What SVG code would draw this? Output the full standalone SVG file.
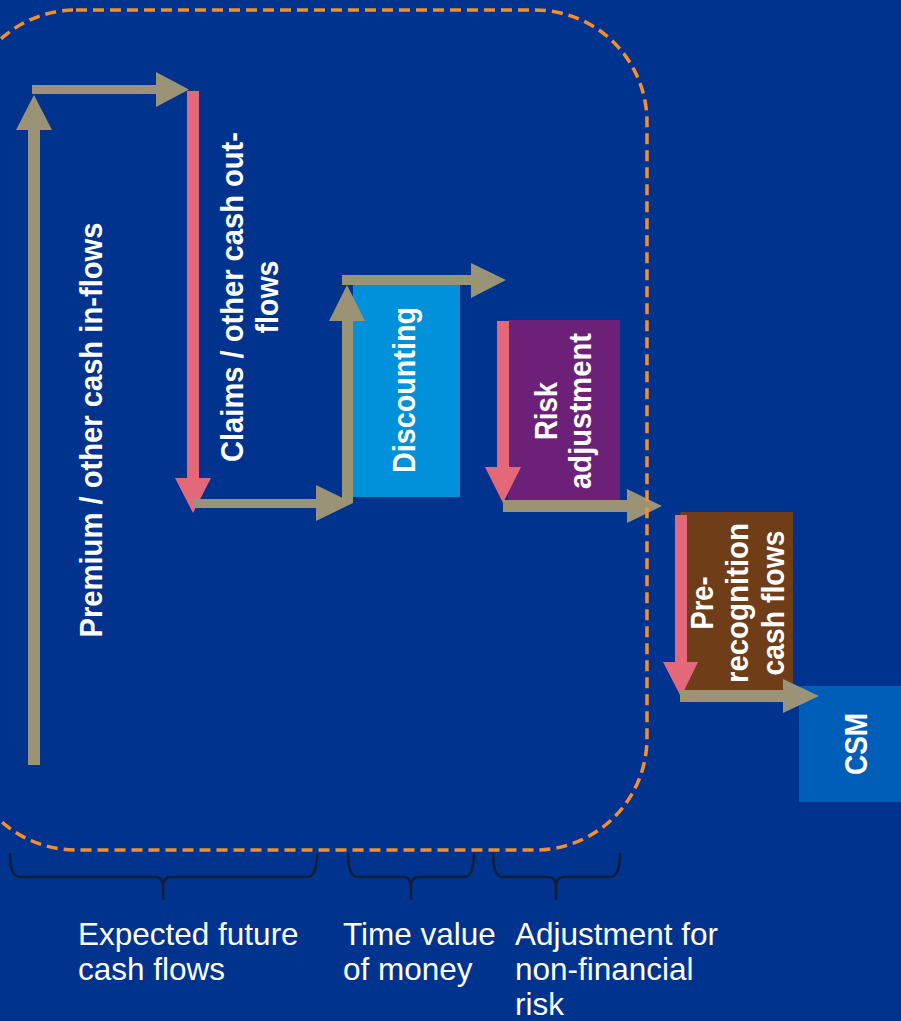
<svg xmlns="http://www.w3.org/2000/svg" width="901" height="1021" viewBox="0 0 901 1021">
  <style>
    .bg { fill: #00338D; }
    .flow { fill: #9A9375; }
    .out { fill: #E2687A; }
    .lbl { font-family: "Liberation Sans", Arial, sans-serif; font-weight: bold; font-size: 31px; fill: #FFFFFF; text-anchor: middle; }
    .cap { font-family: "Liberation Sans", Arial, sans-serif; font-size: 31.5px; fill: #FFFFFF; }
    .brace { fill: none; stroke: #121F3A; stroke-width: 2.5; }
    .scope { fill: none; stroke: #F68D2E; stroke-width: 3.5; stroke-dasharray: 11 6; }
  </style>
  <rect class="bg" x="0" y="0" width="901" height="1021"/>

  <g id="premium">
    <text class="lbl" transform="translate(102,430) rotate(-90)" textLength="415" lengthAdjust="spacingAndGlyphs">Premium / other cash in-flows</text>
  </g>
  <g id="claims">
    <text class="lbl" transform="translate(243,297) rotate(-90)" textLength="330" lengthAdjust="spacingAndGlyphs">Claims / other cash out-</text>
    <text class="lbl" transform="translate(278,297) rotate(-90)" textLength="73" lengthAdjust="spacingAndGlyphs">flows</text>
  </g>
  <g id="discounting">
    <rect x="353" y="285" width="107" height="212" fill="#0091DA"/>
    <text class="lbl" transform="translate(415,390) rotate(-90)" textLength="166" lengthAdjust="spacingAndGlyphs">Discounting</text>
  </g>
  <g id="risk-adjustment">
    <rect x="508" y="320" width="112" height="183" fill="#6D2077"/>
    <text class="lbl" transform="translate(557,411) rotate(-90)" textLength="58" lengthAdjust="spacingAndGlyphs">Risk</text>
    <text class="lbl" transform="translate(591,411) rotate(-90)" textLength="156" lengthAdjust="spacingAndGlyphs">adjustment</text>
  </g>
  <g id="pre-recognition">
    <rect x="680" y="512" width="113" height="178" fill="#703D19"/>
    <text class="lbl" transform="translate(713,603) rotate(-90)" textLength="53" lengthAdjust="spacingAndGlyphs">Pre-</text>
    <text class="lbl" transform="translate(748,603) rotate(-90)" textLength="160" lengthAdjust="spacingAndGlyphs">recognition</text>
    <text class="lbl" transform="translate(784,603) rotate(-90)" textLength="145" lengthAdjust="spacingAndGlyphs">cash flows</text>
  </g>
  <g id="csm">
    <rect x="799" y="686" width="102" height="116" fill="#005EB8"/>
    <text class="lbl" transform="translate(867,744) rotate(-90)" textLength="62" lengthAdjust="spacingAndGlyphs">CSM</text>
  </g>

  <g id="connectors">
    <polygon class="flow" points="28,765 40,765 40,130 52,130 34,95 16,130 28,130"/>
    <polygon class="flow" points="32,85 156,85 156,72 189,89.5 156,107 156,94 32,94"/>
    <polygon class="out" points="187,91 199,91 199,478 211,478 193,513 175,478 187,478"/>
    <polygon class="flow" points="193,499 316,499 316,485 353,503 316,521 316,508 193,508"/>
    <polygon class="flow" points="342,503 353,503 353,321 365,321 347,285 329,321 342,321"/>
    <polygon class="flow" points="342,275 471,275 471,263 506,280 471,298 471,285 342,285"/>
    <polygon class="out" points="497,321 509,321 509,467 521,467 503,503 485,467 497,467"/>
    <polygon class="flow" points="503,500 627,500 627,489 662,506 627,523 627,512 503,512"/>
    <polygon class="out" points="675,515 687,515 687,662 698,662 681,697 663,662 675,662"/>
    <polygon class="flow" points="680,690 783,690 783,679 819,696 783,713 783,702 680,702"/>
  </g>

  <g id="scope">
    <rect class="scope" x="-36" y="10" width="683" height="840" rx="112" ry="112"/>
  </g>

  <g id="braces">
    <path class="brace" d="M10,853 Q10,877 20,877 H155 Q163,877 163,887 V900 M317,853 Q317,877 307,877 H171 Q163,877 163,887"/>
    <path class="brace" d="M348,853 Q348,877 358,877 H403 Q411,877 411,887 V900 M474,853 Q474,877 464,877 H419 Q411,877 411,887"/>
    <path class="brace" d="M493,853 Q493,877 503,877 H548 Q556,877 556,887 V900 M620,853 Q620,877 610,877 H564 Q556,877 556,887"/>
  </g>

  <g id="labels">
    <text class="cap" x="78" y="945">Expected future</text>
    <text class="cap" x="78" y="980">cash flows</text>
    <text class="cap" x="343" y="945">Time value</text>
    <text class="cap" x="343" y="980">of money</text>
    <text class="cap" x="515" y="945">Adjustment for</text>
    <text class="cap" x="515" y="980">non-financial</text>
    <text class="cap" x="515" y="1015">risk</text>
  </g>
</svg>
